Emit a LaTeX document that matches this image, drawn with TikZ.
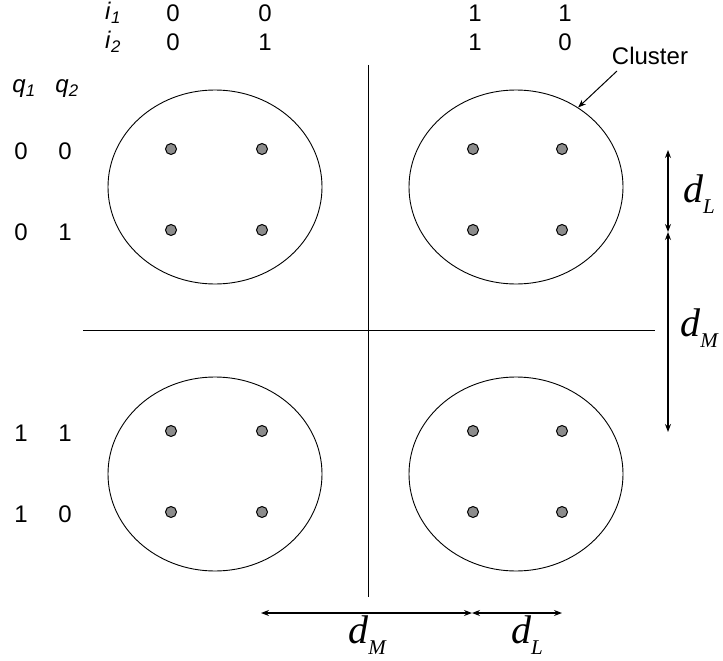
\documentclass[tikz,border=0pt]{standalone}
\usepackage{fontspec}
\setmainfont{Liberation Sans}
\newfontfamily\dfont{Liberation Serif}
\usetikzlibrary{shapes.geometric,arrows.meta}
\newcommand\dlab[1]{{\dfont\itshape d}\raisebox{-0.27em}{\dfont\itshape\fontsize{21}{21}\selectfont #1}}
\begin{document}
\begin{tikzpicture}[x=1pt,y=-1pt,>={Stealth[length=8pt,width=6pt]},
  lbl/.style={font=\fontsize{24}{26}\selectfont,inner sep=0pt},
  dist/.style={font=\fontsize{40}{42}\selectfont,inner sep=0pt},
  cluster/.style={draw,ellipse,line width=0.9pt,minimum width=214pt,minimum height=194pt,inner sep=0pt},
  pt/.style={draw=black,fill=black!45,line width=1pt},
  dim/.style={<->,line width=1.1pt}]
\useasboundingbox (0,0) rectangle (723,661);

% clusters
\node[cluster] (tl) at (215,187) {};
\node[cluster] (tr) at (516,187) {};
\node[cluster] (bl) at (215,474) {};
\node[cluster] (br) at (516,474) {};

% constellation points
\foreach \x in {171,262,473,562}
  \foreach \y in {149,230,431,512}
    \fill[pt] (\x,\y) circle (5.5);

% axes
\coordinate (vtop) at (368,65);
\coordinate (vbot) at (368,597);
\coordinate (hleft) at (83,330);
\coordinate (hright) at (655,330);
\draw[line width=0.9pt] (vtop) -- (vbot);
\draw[line width=0.9pt] (hleft) -- (hright);

% bit labels
\node[lbl] (i1) at (113,13) {\textit{i}\textsubscript{\textit{1}}};
\node[lbl] (i2) at (113,42) {\textit{i}\textsubscript{\textit{2}}};
\node[lbl] (q1) at (24,89) {\textit{q}\textsubscript{\textit{1}}};
\node[lbl] (q2) at (67,89) {\textit{q}\textsubscript{\textit{2}}};
\foreach \x/\a/\b [count=\k] in {173/0/0,265/0/1,475/1/1,565/1/0} {
  \node[lbl] (ia\k) at (\x,13) {\a};
  \node[lbl] (ib\k) at (\x,42) {\b};
}
\foreach \y/\a/\b [count=\k] in {151/0/0,232/0/1,433/1/1,514/1/0} {
  \node[lbl] (qa\k) at (21,\y) {\a};
  \node[lbl] (qb\k) at (65,\y) {\b};
}

% cluster label
\node[lbl] (clab) at (650,56) {Cluster};
\draw[->,line width=1pt] (617,71) -- (tr.52);

% distances
\coordinate (rtop) at (668,150);
\coordinate (rmid) at (668,232);
\coordinate (rbot) at (668,432);
\draw[dim] (rtop) -- (rmid);
\draw[dim] (rmid) -- (rbot);
\node[dist] (dl1) at (699,194) {\dlab{L}};
\node[dist] (dm1) at (699,328) {\dlab{M}};

\coordinate (bleft) at (261,613);
\coordinate (bmid) at (472,613);
\coordinate (bright) at (562,613);
\draw[dim] (bleft) -- (bmid);
\draw[dim] (bmid) -- (bright);
\node[dist] (dm2) at (367,635) {\dlab{M}};
\node[dist] (dl2) at (527,635) {\dlab{L}};
\end{tikzpicture}
\end{document}
